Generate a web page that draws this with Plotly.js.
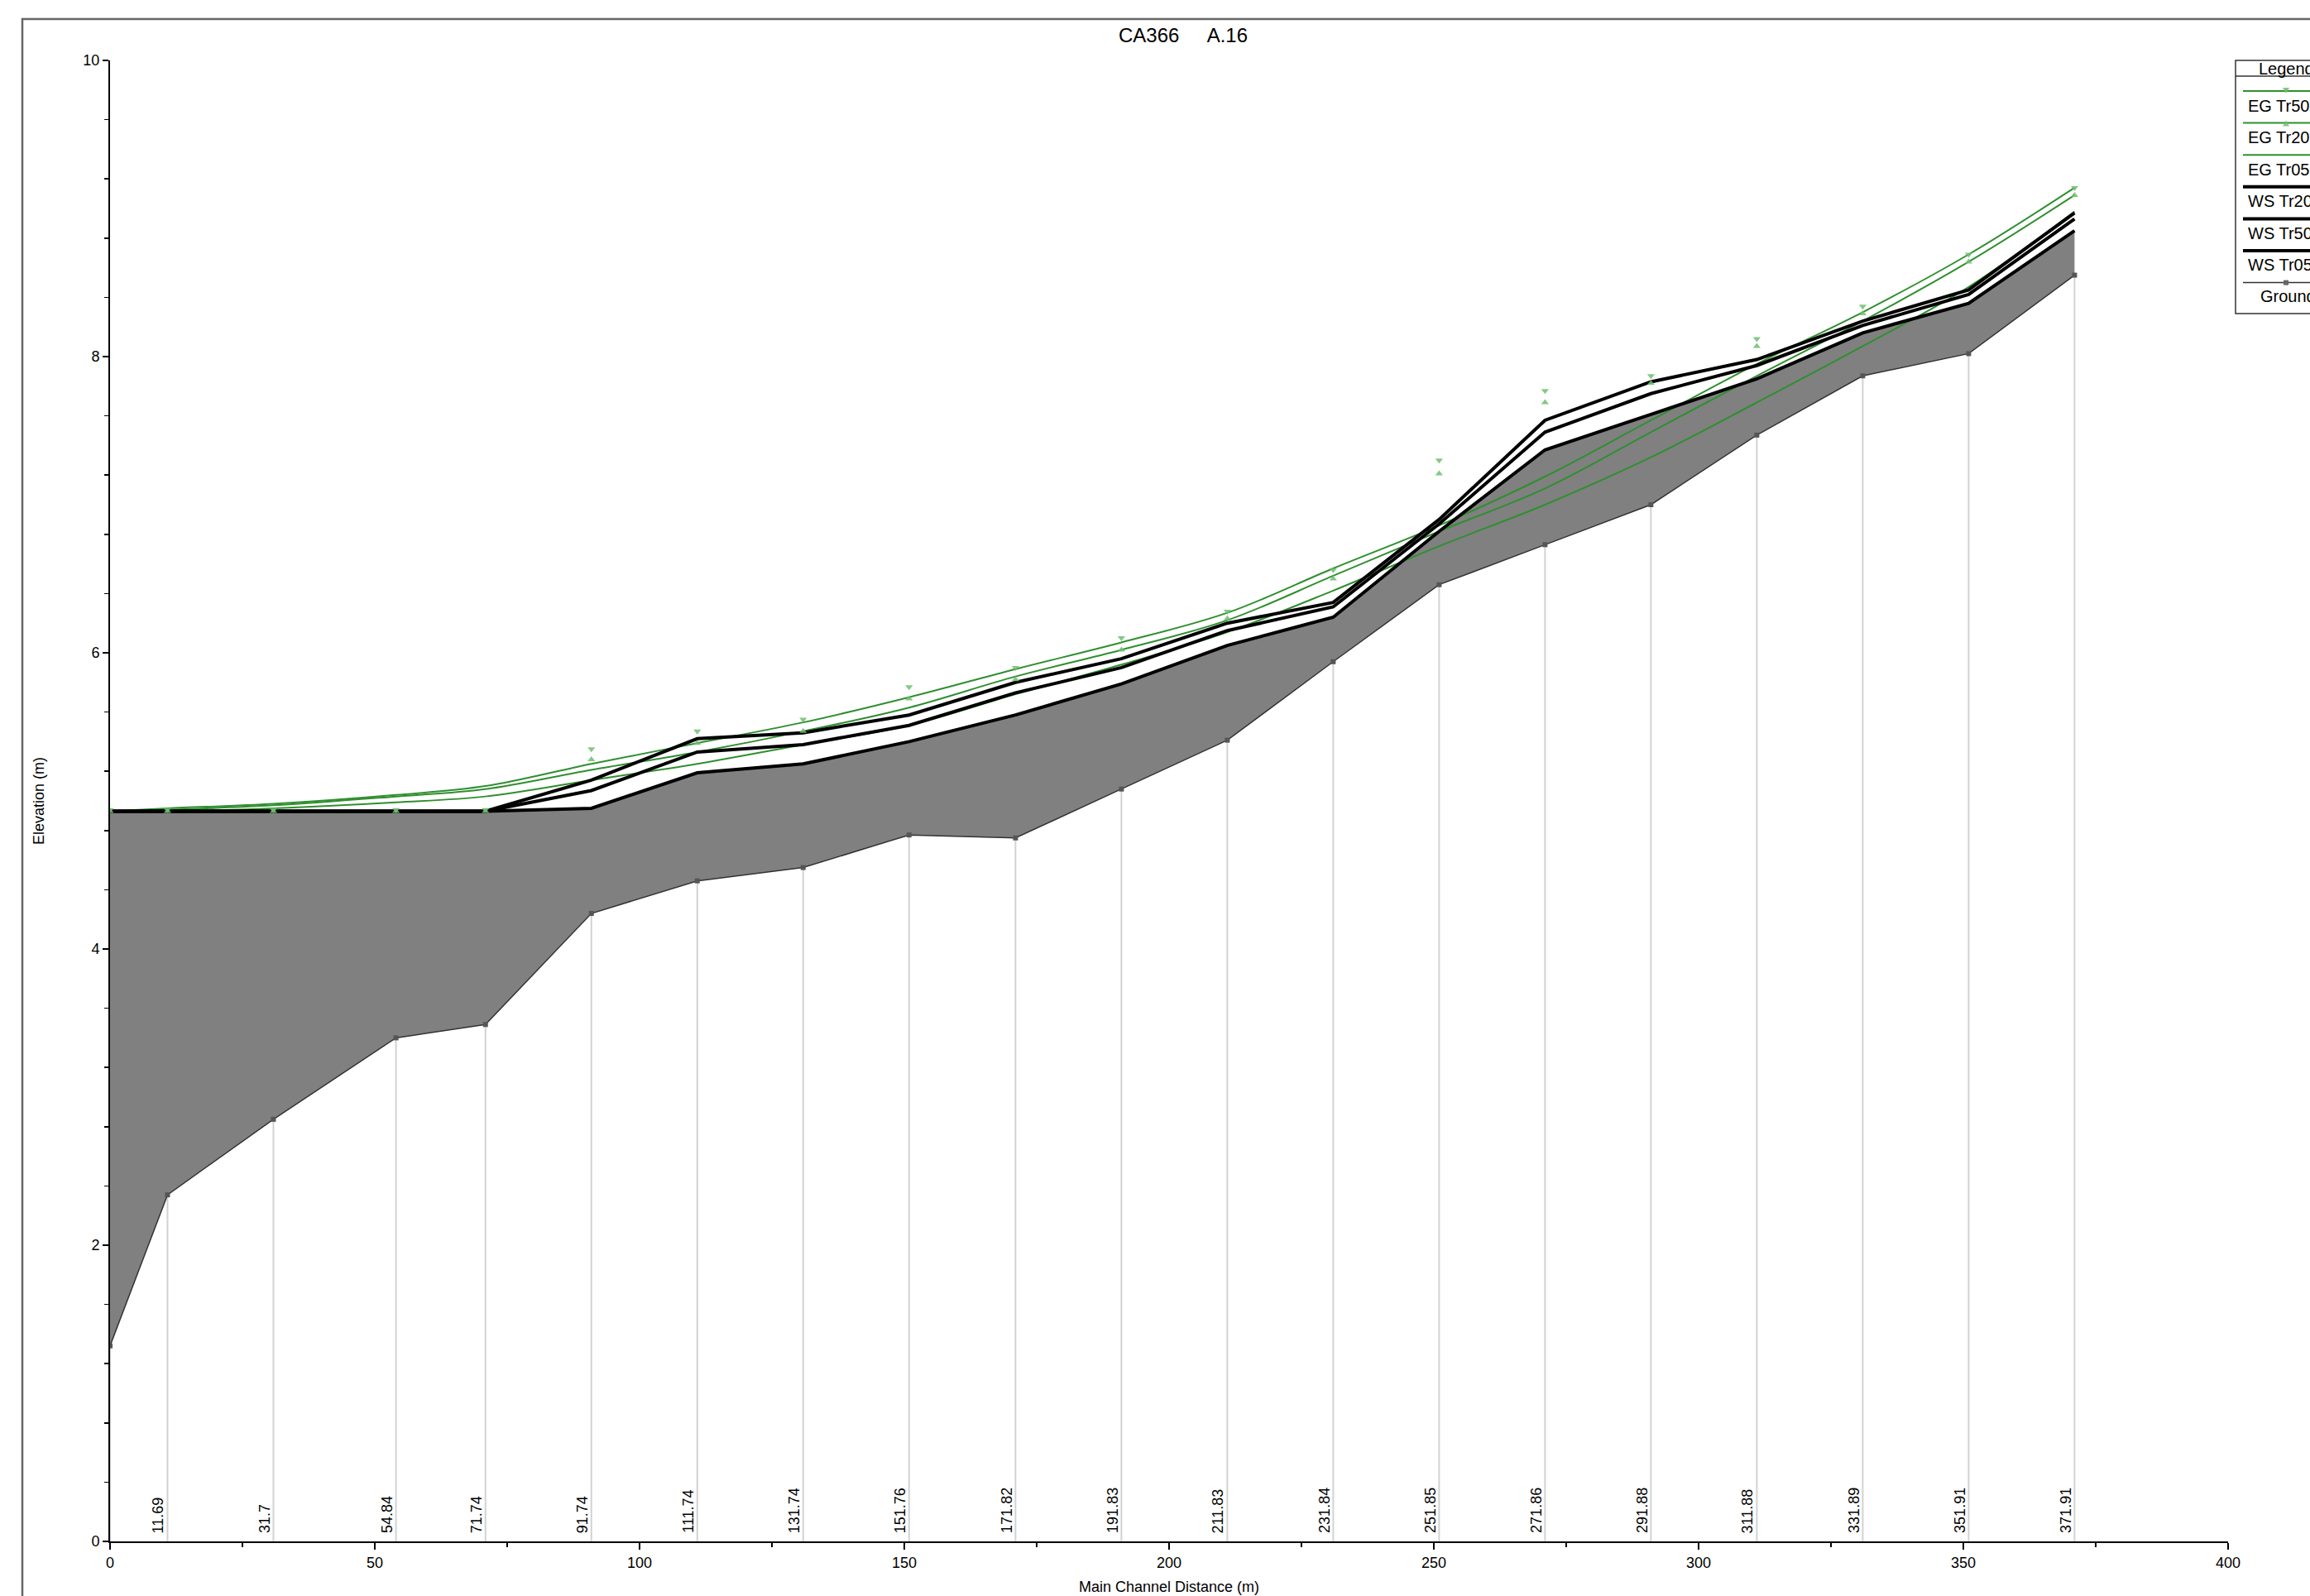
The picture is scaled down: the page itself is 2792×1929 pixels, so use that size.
<!DOCTYPE html>
<html><head><meta charset="utf-8">
<script src="https://cdn.plot.ly/plotly-3.0.1.min.js"></script>
<style>html,body{margin:0;padding:0;background:#fff;} #chart{width:2792px;height:1929px;}</style>
</head><body><div id="chart"></div>
<script>
// ---- data ----
const stations = [0, 10.85, 30.85, 54.0, 70.9, 90.9, 110.9, 130.9, 150.9, 171.0, 191.0, 211.0, 231.0, 251.0, 271.0, 291.0, 311.0, 331.0, 351.0, 371.0];
const stationLabels = ['', '11.69', '31.7', '54.84', '71.74', '91.74', '111.74', '131.74', '151.76', '171.82', '191.83', '211.83', '231.84', '251.85', '271.86', '291.88', '311.88', '331.89', '351.91', '371.91'];
const ground = [1.32, 2.34, 2.85, 3.40, 3.49, 4.24, 4.46, 4.55, 4.77, 4.75, 5.08, 5.41, 5.94, 6.46, 6.73, 7.00, 7.47, 7.87, 8.02, 8.55];
const wsTr05 = [4.93, 4.93, 4.93, 4.93, 4.93, 4.95, 5.19, 5.25, 5.40, 5.58, 5.79, 6.05, 6.24, 6.82, 7.37, 7.61, 7.85, 8.16, 8.36, 8.85];
const wsTr20 = [4.93, 4.93, 4.93, 4.93, 4.93, 5.07, 5.33, 5.38, 5.51, 5.73, 5.90, 6.15, 6.31, 6.87, 7.49, 7.75, 7.94, 8.21, 8.42, 8.93];
const wsTr50 = [4.93, 4.93, 4.93, 4.93, 4.93, 5.14, 5.42, 5.46, 5.58, 5.80, 5.96, 6.20, 6.34, 6.90, 7.57, 7.83, 7.98, 8.24, 8.45, 8.97];
const egTr50Line = [4.93, 4.95, 4.98, 5.04, 5.10, 5.25, 5.39, 5.53, 5.70, 5.89, 6.07, 6.27, 6.57, 6.86, 7.19, 7.57, 7.95, 8.30, 8.69, 9.14];
const egTr20Line = [4.93, 4.94, 4.97, 5.03, 5.08, 5.21, 5.33, 5.47, 5.63, 5.84, 6.02, 6.22, 6.52, 6.82, 7.11, 7.49, 7.87, 8.24, 8.64, 9.09];
const egTr05Line = [4.93, 4.93, 4.95, 4.99, 5.03, 5.14, 5.25, 5.38, 5.51, 5.72, 5.92, 6.14, 6.42, 6.72, 7.00, 7.32, 7.69, 8.07, 8.47, 8.98];
const egTr50Pts = [4.94, 4.94, 4.94, 4.94, 4.94, 5.35, 5.47, 5.55, 5.77, 5.90, 6.10, 6.28, 6.56, 7.30, 7.77, 7.87, 8.12, 8.34, 8.69, 9.14];
const egTr20Pts = [4.93, 4.93, 4.93, 4.93, 4.93, 5.28, 5.39, 5.47, 5.69, 5.82, 6.02, 6.23, 6.50, 7.21, 7.69, 7.82, 8.07, 8.29, 8.64, 9.09];
const legendNames = ['EG Tr50', 'EG Tr20', 'EG Tr05', 'WS Tr20', 'WS Tr50', 'WS Tr05', 'Ground'];
const chartTitle = 'CA366\u00A0\u00A0\u00A0\u00A0\u00A0A.16';
const xTitle = 'Main Channel Distance (m)';
const yTitle = 'Elevation (m)';

// ---- styling ----
const FONT = 'Liberation Sans, Arial, Helvetica, sans-serif';
const GREEN = '#2f8f2f';
const MARK = 'rgba(110,190,110,0.85)';
const W = 2792, H = 1929;
const L = 133, R = 2693, T = 73, B = 1863;
const px = v => (v - L) / (R - L);
const py = v => (B - v) / (B - T);

const vx = [], vy = [];
stations.forEach((s, i) => { vx.push(s, s, null); vy.push(0, ground[i], null); });

const traces = [
  {x: vx, y: vy, mode: 'lines', line: {color: '#d2d2d2', width: 2}, hoverinfo: 'skip', showlegend: false},
  {x: stations, y: ground, mode: 'lines', line: {width: 0, color: 'rgba(0,0,0,0)'}, hoverinfo: 'skip', showlegend: false},
  {x: stations, y: wsTr05, mode: 'lines', fill: 'tonexty', fillcolor: '#808080', line: {width: 0, color: 'rgba(0,0,0,0)'}, hoverinfo: 'skip', showlegend: false},
  {x: stations, y: egTr05Line, name: 'EG Tr05', mode: 'lines', line: {color: GREEN, width: 2, shape: 'spline', smoothing: 1}, showlegend: false},
  {x: stations, y: egTr20Line, name: 'EG Tr20', mode: 'lines', line: {color: GREEN, width: 2, shape: 'spline', smoothing: 1}, showlegend: false},
  {x: stations, y: egTr50Line, name: 'EG Tr50', mode: 'lines', line: {color: GREEN, width: 2, shape: 'spline', smoothing: 1}, showlegend: false},
  {x: stations, y: ground, name: 'Ground', mode: 'lines+markers', line: {color: '#333333', width: 1.5}, marker: {symbol: 'square', size: 6, color: '#555555'}, showlegend: false},
  {x: stations, y: wsTr05, name: 'WS Tr05', mode: 'lines', line: {color: '#000000', width: 4}, showlegend: false},
  {x: stations, y: wsTr20, name: 'WS Tr20', mode: 'lines', line: {color: '#000000', width: 4}, showlegend: false},
  {x: stations, y: wsTr50, name: 'WS Tr50', mode: 'lines', line: {color: '#000000', width: 4}, showlegend: false},
  {x: stations, y: egTr50Pts, name: 'EG Tr50 pts', mode: 'markers', marker: {symbol: 'triangle-down', size: 8, color: MARK}, showlegend: false},
  {x: stations, y: egTr20Pts, name: 'EG Tr20 pts', mode: 'markers', marker: {symbol: 'triangle-up', size: 8, color: MARK}, showlegend: false}
];

const annotations = [];
stations.forEach((s, i) => {
  if (!stationLabels[i]) return;
  annotations.push({x: s, y: 0, xref: 'x', yref: 'y', text: stationLabels[i], showarrow: false,
    textangle: -90, xanchor: 'right', yanchor: 'bottom', yshift: 8, xshift: 1,
    font: {family: FONT, size: 18, color: '#000'}});
});

// legend (custom, drawn like the reference, running past the right edge as in the reference)
const shapes = [];
shapes.push({type: 'rect', xref: 'paper', yref: 'paper', x0: px(27), x1: px(2900), y0: py(2000), y1: py(23), line: {color: '#666', width: 2.5}, fillcolor: 'rgba(0,0,0,0)', layer: 'below'});
shapes.push({type: 'rect', xref: 'paper', yref: 'paper', x0: px(2702), x1: px(2900), y0: py(379), y1: py(73), line: {color: '#333', width: 1.5}, fillcolor: '#ffffff'});
shapes.push({type: 'line', xref: 'paper', yref: 'paper', x0: px(2702), x1: px(2900), y0: py(92), y1: py(92), line: {color: '#333', width: 1.5}});
annotations.push({xref: 'paper', yref: 'paper', x: px(2728), y: py(83), text: 'Legend', showarrow: false, xanchor: 'left', yanchor: 'middle', font: {family: FONT, size: 20, color: '#000'}});
const legStyles = [
  {c: GREEN, w: 2, m: 'down'}, {c: GREEN, w: 2, m: 'up'}, {c: GREEN, w: 2, m: null},
  {c: '#000', w: 4, m: null}, {c: '#000', w: 4, m: null}, {c: '#000', w: 4, m: null},
  {c: '#333', w: 1.5, m: 'sq'}
];
legendNames.forEach((n, i) => {
  const ly = 110 + i * 38.6, ty = 128 + i * 38.4;
  const st = legStyles[i];
  shapes.push({type: 'line', xref: 'paper', yref: 'paper', x0: px(2711), x1: px(2900), y0: py(ly), y1: py(ly), line: {color: st.c, width: st.w}});
  if (st.m === 'down') shapes.push({type: 'path', xref: 'paper', yref: 'paper', path: `M ${px(2759)} ${py(ly-4)} L ${px(2767)} ${py(ly-4)} L ${px(2763)} ${py(ly+3)} Z`, fillcolor: MARK, line: {width: 0}});
  if (st.m === 'up') shapes.push({type: 'path', xref: 'paper', yref: 'paper', path: `M ${px(2759)} ${py(ly+4)} L ${px(2767)} ${py(ly+4)} L ${px(2763)} ${py(ly-3)} Z`, fillcolor: MARK, line: {width: 0}});
  if (st.m === 'sq') shapes.push({type: 'rect', xref: 'paper', yref: 'paper', x0: px(2760), x1: px(2766), y0: py(ly+3), y1: py(ly-3), fillcolor: '#666', line: {width: 0}});
  annotations.push({xref: 'paper', yref: 'paper', x: px(n === 'Ground' ? 2730 : 2715), y: py(ty), text: n, showarrow: false, xanchor: 'left', yanchor: 'middle', font: {family: FONT, size: 20, color: '#000'}});
});

const layout = {
  width: W, height: H,
  margin: {l: L, r: W - R, t: T, b: H - B, pad: 0},
  paper_bgcolor: '#ffffff', plot_bgcolor: '#ffffff',
  showlegend: false,
  font: {family: FONT, size: 18, color: '#000'},
  title: {text: chartTitle, font: {family: FONT, size: 24, color: '#000'}, xref: 'container', yref: 'container', x: 1430 / W, y: 1 - 43 / H, xanchor: 'center', yanchor: 'middle'},
  xaxis: {range: [0, 400], tickvals: [0, 50, 100, 150, 200, 250, 300, 350, 400], ticks: 'outside', ticklen: 8, tickwidth: 1.5, tickcolor: '#000',
    minor: {dtick: 25, tick0: 0, ticks: 'outside', ticklen: 5, tickwidth: 1.5, tickcolor: '#000', showgrid: false},
    showline: true, linecolor: '#000', linewidth: 2, showgrid: false, zeroline: false,
    tickfont: {family: FONT, size: 18, color: '#000'},
    title: {text: xTitle, font: {family: FONT, size: 18, color: '#000'}, standoff: 14}},
  yaxis: {range: [0, 10], tickvals: [0, 2, 4, 6, 8, 10], ticks: 'outside', ticklen: 7, tickwidth: 1.5, tickcolor: '#000',
    minor: {dtick: 0.4, tick0: 0, ticks: 'outside', ticklen: 5, tickwidth: 1.5, tickcolor: '#000', showgrid: false},
    showline: true, linecolor: '#000', linewidth: 2, showgrid: false, zeroline: false,
    tickfont: {family: FONT, size: 18, color: '#000'},
    title: {text: yTitle, font: {family: FONT, size: 18, color: '#000'}, standoff: 42}},
  shapes: shapes,
  annotations: annotations
};

Plotly.newPlot('chart', traces, layout, {displayModeBar: false, staticPlot: true});
</script>
</body></html>
